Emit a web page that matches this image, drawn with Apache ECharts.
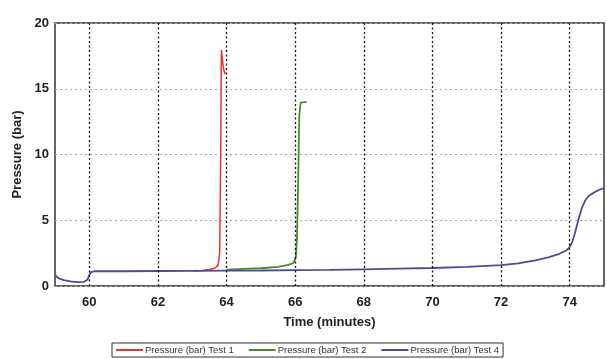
<!DOCTYPE html>
<html><head><meta charset="utf-8">
<script src="https://cdn.jsdelivr.net/npm/echarts@6/dist/echarts.min.js"></script>
<style>html,body{margin:0;padding:0;background:#fff}#c{width:607px;height:359px}</style>
</head><body><div id="c"></div>
<script>
// Data (time in minutes, pressure in bar)
const test1 = [[63.03,1.15],[63.3,1.18],[63.5,1.25],[63.65,1.35],[63.75,1.55],[63.8,2.5],[63.81,5.4],[63.83,10],[63.84,15],[63.85,17.95],[63.88,17.2],[63.92,16.4],[63.96,16.1]];
const test2 = [[64.0,1.25],[64.5,1.3],[65.0,1.35],[65.5,1.45],[65.8,1.6],[65.95,1.75],[66.02,2.2],[66.05,3.5],[66.08,7],[66.1,10],[66.12,13],[66.16,13.95],[66.33,14.0]];
const test4 = [[59.0,0.85],[59.1,0.6],[59.25,0.45],[59.45,0.35],[59.65,0.3],[59.85,0.32],[59.95,0.5],[60.0,0.85],[60.05,1.05],[60.15,1.12],[61,1.12],[62,1.14],[63,1.15],[64,1.17],[65,1.18],[66,1.2],[67,1.22],[68,1.27],[69,1.32],[70,1.37],[71,1.45],[72,1.58],[72.5,1.72],[73,1.95],[73.4,2.2],[73.7,2.45],[73.9,2.7],[74.0,2.95],[74.08,3.4],[74.15,4.0],[74.25,5.0],[74.35,5.9],[74.45,6.5],[74.55,6.85],[74.7,7.1],[74.85,7.3],[75.0,7.45]];
const xTicks = [60,62,64,66,68,70,72,74];
const names = ['Pressure (bar) Test 1','Pressure (bar) Test 2','Pressure (bar) Test 4'];

const chart = echarts.init(document.getElementById('c'), null, {renderer:'canvas'});
const lab = {color:'#222', fontWeight:'bold', fontFamily:'Liberation Sans, Arial, sans-serif', fontSize:13};
chart.setOption({
  animation:false,
  grid:{left:55,right:-2,top:23,bottom:73,show:true,borderColor:'#333',borderWidth:1.5,backgroundColor:'#fff'},
  legend:{
    data:names, bottom:2, left:112, itemWidth:27, itemHeight:2, icon:'rect', itemGap:15,
    borderColor:'#333', borderWidth:1, padding:[2,4],
    textStyle:{fontSize:9.5, color:'#333', fontFamily:'Liberation Sans, Arial, sans-serif', padding:[0,0,0,-3]}
  },
  xAxis:{type:'value',min:59,max:75,interval:1,
    name:'Time (minutes)',nameLocation:'middle',nameGap:30,nameTextStyle:lab,
    axisLine:{show:false},axisTick:{show:false},splitLine:{show:false},
    axisLabel:Object.assign({margin:10,formatter:v=>(xTicks.indexOf(v)>=0?String(v):'')},lab)},
  yAxis:{type:'value',min:0,max:20,interval:5,
    name:'Pressure (bar)',nameLocation:'middle',nameGap:27,nameTextStyle:lab,
    axisLine:{show:false},axisTick:{show:false},
    splitLine:{show:true,lineStyle:{color:'#aaa',type:[2,3],width:1.2}},
    axisLabel:Object.assign({margin:6},lab)},
  series:[
    {name:'grid',type:'line',data:[],silent:true,
     markLine:{silent:true,symbol:'none',label:{show:false},
       lineStyle:{color:'#111',type:[2,2.5],width:1.3},
       data:xTicks.map(v=>({xAxis:v}))}},
    {name:names[0],type:'line',data:test1,showSymbol:false,color:'#e8352c',lineStyle:{width:1.5}},
    {name:names[1],type:'line',data:test2,showSymbol:false,color:'#4a8a2c',lineStyle:{width:1.8}},
    {name:names[2],type:'line',data:test4,showSymbol:false,color:'#4b4b9a',lineStyle:{width:1.8}}
  ]
});
</script></body></html>
